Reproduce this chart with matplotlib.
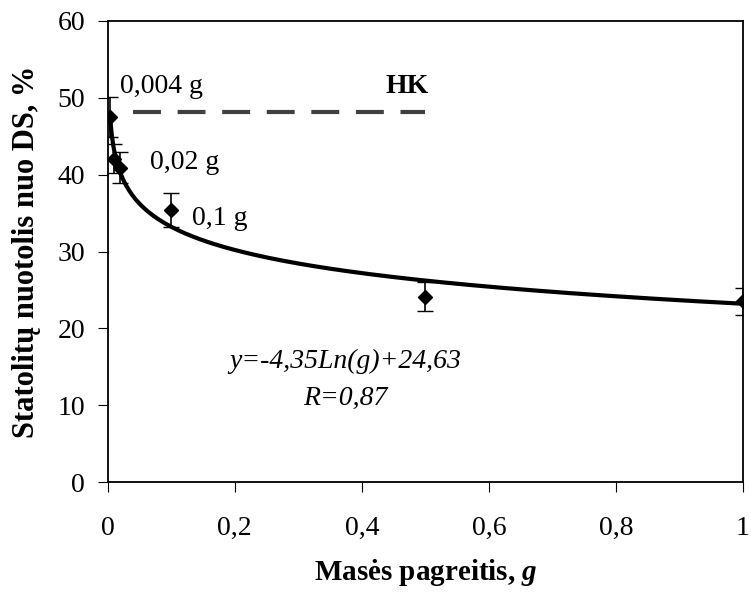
import numpy as np
import matplotlib
matplotlib.use("Agg")
import matplotlib.pyplot as plt

plt.rcParams['font.family'] = ['Liberation Serif', 'DejaVu Serif']
plt.rcParams['mathtext.fontset'] = 'custom'
plt.rcParams['mathtext.rm'] = 'Liberation Serif'
plt.rcParams['mathtext.it'] = 'Liberation Serif:italic'
plt.rcParams['mathtext.bf'] = 'Liberation Serif:bold'
plt.rcParams['mathtext.bfit'] = 'Liberation Serif:bold:italic'

# Data
mass_g = [0.004, 0.01, 0.02, 0.1, 0.5, 1.0]
distance = [47.5, 42.1, 40.9, 35.4, 24.1, 23.5]
distance_err = [2.6, 1.9, 2.0, 2.2, 1.9, 1.7]

# Logarithmic trend line as drawn in the reference
fit_a = -4.35
fit_b = 23.2
fit_range = [0.004, 1.0]

hk_level = 48.1
hk_range = [0.04, 0.5]

x_ticks = [0, 0.2, 0.4, 0.6, 0.8, 1.0]
x_ticklabels = ['0', '0,2', '0,4', '0,6', '0,8', '1']
y_ticks = [0, 10, 20, 30, 40, 50, 60]

fig = plt.figure(figsize=(7.51, 6.01), dpi=100)
ax = fig.add_axes([107.7/751, (601-482)/601, (743-107.7)/751, (482-21)/601])

gx = np.linspace(fit_range[0], fit_range[1], 400)
ax.plot(gx, fit_a*np.log(gx) + fit_b, color='black', lw=3.0, zorder=3)

ax.errorbar(mass_g, distance, yerr=distance_err, fmt='D', color='black',
            markersize=7, markeredgewidth=1, ecolor='black', elinewidth=1.2,
            capsize=5.5, capthick=1.4, zorder=4)

ax.plot(hk_range, [hk_level, hk_level], color='#404040', lw=3.0,
        dashes=(6.7, 4.0), zorder=2)

fs = 20
ax.text(0.0194, 50.6, '0,004 g', fontsize=fs, ha='left', va='baseline')
ax.text(0.0666, 40.8, '0,02 g', fontsize=fs, ha='left', va='baseline')
ax.text(0.1327, 33.45, '0,1 g', fontsize=fs, ha='left', va='baseline')
ax.text(0.472, 50.6, 'HK', fontsize=fs, fontweight='bold', ha='center', va='baseline')
ax.text(0.374, 14.9, 'y=-4,35Ln(g)+24,63', fontsize=fs, style='italic', ha='center', va='baseline')
ax.text(0.374, 10.0, 'R=0,87', fontsize=fs, style='italic', ha='center', va='baseline')

ax.set_xlim(0, 1)
ax.set_ylim(0, 60)
ax.set_xticks(x_ticks)
ax.set_xticklabels(x_ticklabels)
ax.set_yticks(y_ticks)
ax.tick_params(axis='both', direction='out', length=7.2, width=0.8, labelsize=fs, color='black')
ax.tick_params(axis='x', pad=17)
ax.tick_params(axis='y', pad=9)
for s in ax.spines.values():
    s.set_linewidth(1.3)
    s.set_color('black')

ax.set_xlabel('Masės pagreitis, $\\mathbfit{g}$', fontsize=21, fontweight='bold', labelpad=12)
ax.set_ylabel('Statolitų nuotolis nuo DS, %', fontsize=22, fontweight='bold', labelpad=12)

fig.savefig('out.png', dpi=100)
